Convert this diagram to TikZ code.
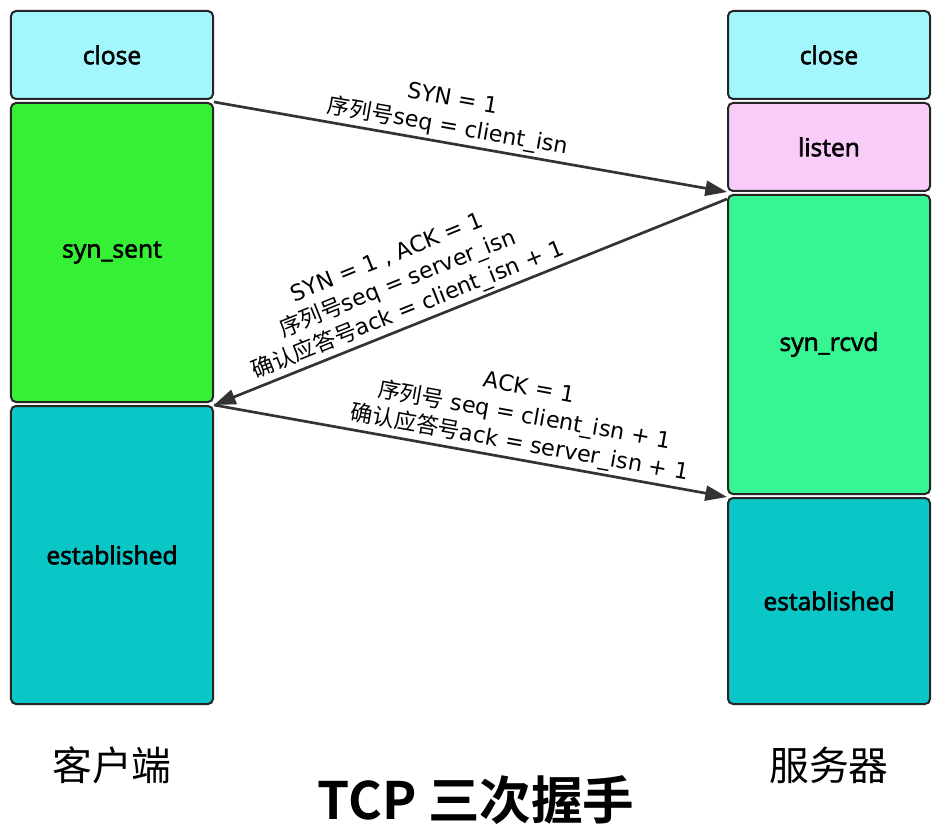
\documentclass[tikz,border=0pt]{standalone}
\usepackage{fontspec}
\setmainfont{Open Sans}
\newfontfamily\boxfont[FakeBold=2.5]{Open Sans}
\newfontfamily\lblfont{DejaVu Sans}
\newfontfamily\cjk[BoldFont={Noto Sans CJK SC Bold}]{Noto Sans CJK SC}
\usetikzlibrary{arrows.meta}
\usetikzlibrary{positioning}

\definecolor{closecol}{HTML}{A3F7FC}
\definecolor{sentcol}{HTML}{35F035}
\definecolor{estcol}{HTML}{0BC6C6}
\definecolor{listencol}{HTML}{F9CBF9}
\definecolor{rcvdcol}{HTML}{38F594}

\begin{document}
\begin{tikzpicture}[x=0.3mm, y=-0.3mm, >={Triangle[length=6.5mm,width=4.5mm]},
  node distance=0.6mm,
  state/.style={rectangle,rounded corners=1.5mm,draw=black!85,line width=0.6mm,minimum width=60.6mm,font=\boxfont\fontsize{21}{25}\selectfont},
  msg/.style={->,line width=0.8mm,draw=black!80},
  msglabel/.style={sloped,above,align=center,inner sep=0.8mm,font=\lblfont\fontsize{19}{24}\selectfont},
  side/.style={font=\cjk\fontsize{34}{40}\selectfont}]

  \useasboundingbox[fill=white] (0,0) rectangle (940,838);

  % client side
  \node[state, fill=closecol, minimum height=26.4mm] (lclose) at (112,55) {close};
  \node[state, fill=sentcol, minimum height=89.7mm, below=of lclose] (lsent) {syn\_sent};
  \node[state, fill=estcol, minimum height=89.4mm, below=of lsent] (lest) {established};

  % server side
  \node[state, fill=closecol, minimum height=26.4mm] (rclose) at (829,55) {close};
  \node[state, fill=listencol, minimum height=26.4mm, below=of rclose] (rlisten) {listen};
  \node[state, fill=rcvdcol, minimum height=89.7mm, below=of rlisten] (rrcvd) {syn\_rcvd};
  \node[state, fill=estcol, minimum height=61.8mm, below=of rrcvd] (rest) {established};

  \node[side] (client) at (112,765) {客户端};
  \node[side] (server) at (829,765) {服务器};
  \node[font=\cjk\bfseries\fontsize{44}{50}\selectfont] (title) at (476,800) {TCP 三次握手};

  % handshake
  \draw[msg] (lsent.north east) -- node[msglabel, pos=.45]
    {SYN = 1\\{\cjk 序列号}seq = client\_isn} (rlisten.south west);
  \draw[msg] ([yshift=-1.5mm]rrcvd.north west) -- node[msglabel, pos=.61]
    {SYN = 1 , ACK = 1\\{\cjk 序列号}seq = server\_isn\\{\cjk 确认应答号}ack = client\_isn + 1} (lest.north east);
  \draw[msg] (lest.north east) -- node[msglabel, pos=.59]
    {ACK = 1\\{\cjk 序列号} seq = client\_isn + 1\\{\cjk 确认应答号}ack = server\_isn + 1} (rest.north west);
\end{tikzpicture}
\end{document}
